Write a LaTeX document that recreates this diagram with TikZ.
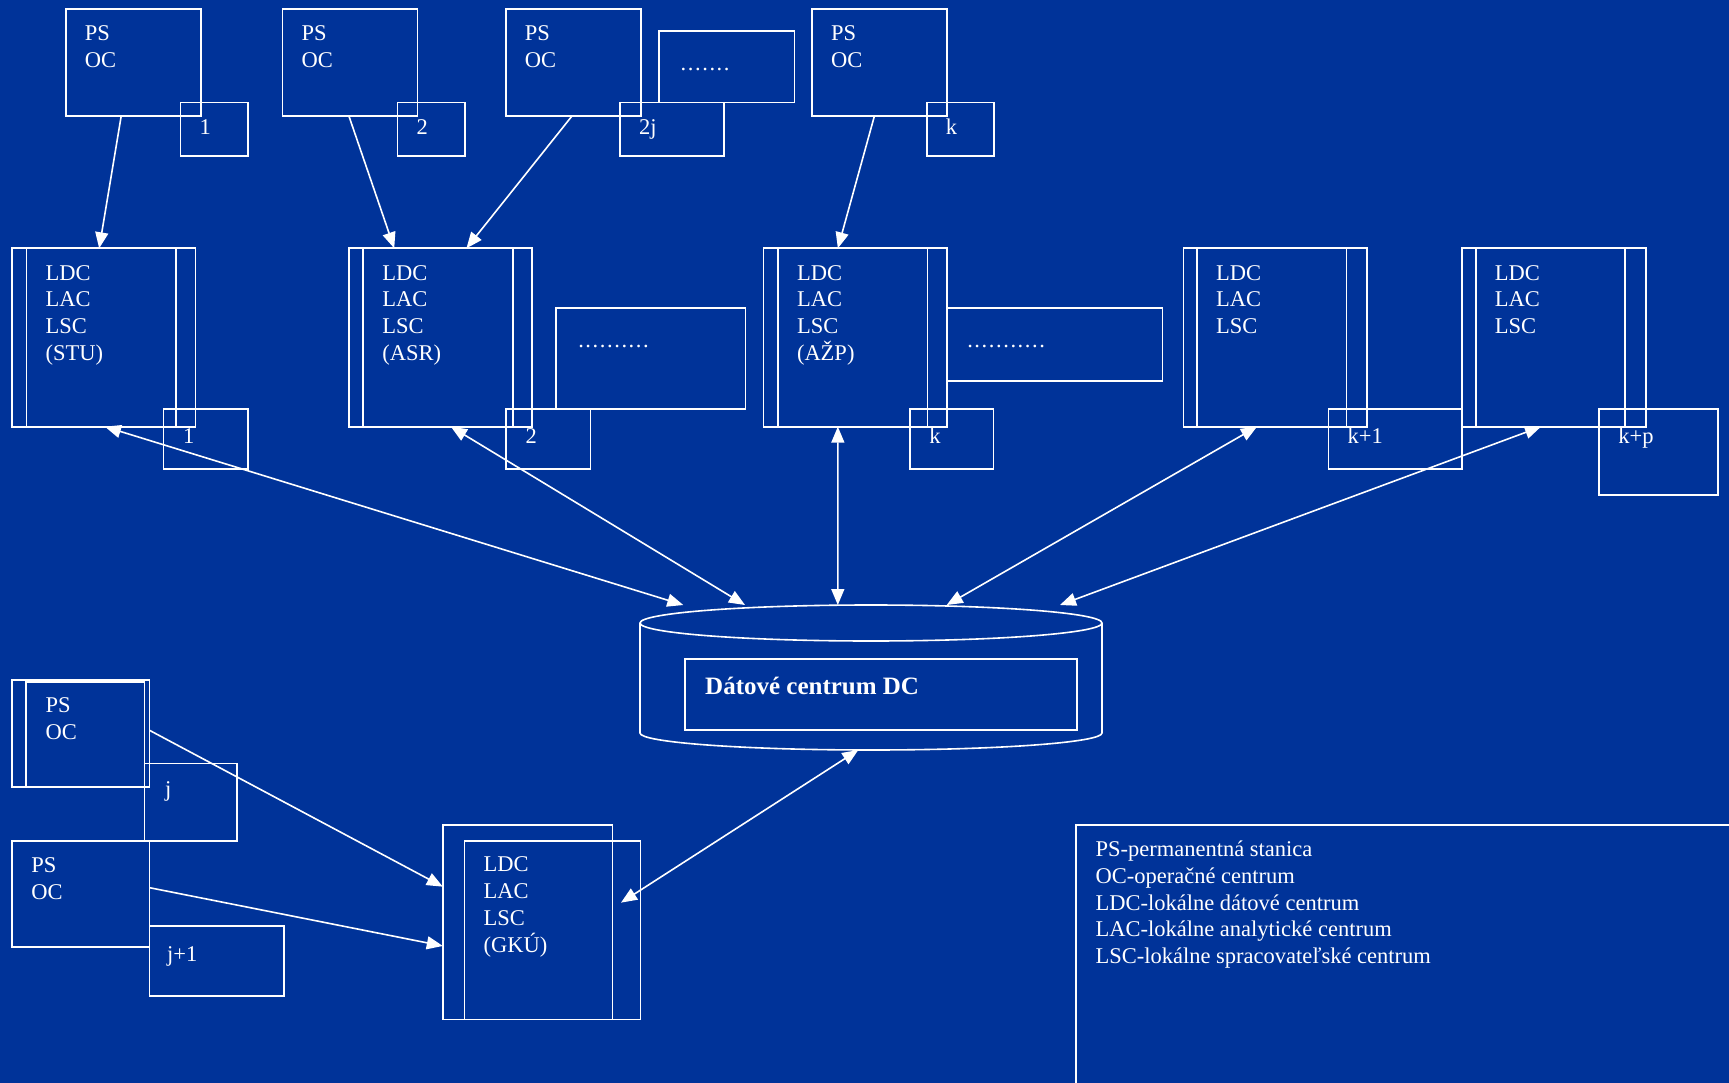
\documentclass[tikz,border=0pt]{standalone}
\usepackage{fontspec}
\setmainfont{Liberation Serif}
\usetikzlibrary{arrows.meta}
\definecolor{pozadie}{RGB}{0,51,153}
\newcommand{\riadky}[1]{\begin{tabular}[t]{@{}l@{}}#1\end{tabular}}

\begin{document}
\begin{tikzpicture}[x=1pt, y=-1pt,
    box/.style={draw=white, line width=1.6pt, inner sep=0pt, outer sep=0pt, anchor=north west},
    psbox/.style={box, minimum width=135pt, minimum height=107pt},
    cislo/.style={box, minimum width=67.5pt, minimum height=53.5pt},
    ldc/.style={box, minimum width=183.5pt, minimum height=178.4pt},
    ldcin/.style={box, minimum width=149.5pt, minimum height=178.4pt},
    txt/.style={text=white, inner sep=0pt, anchor=base west, font=\fontsize{22.5}{26.7}\selectfont},
    bodkytxt/.style={txt, font=\fontsize{22.5}{26.7}\selectfont\addfontfeature{LetterSpace=7}},
    sipka/.style={draw=white, line width=1.6pt, -{Triangle[length=16pt,width=13pt]}},
    obojsmerna/.style={sipka, {Triangle[length=16pt,width=13pt]}-{Triangle[length=16pt,width=13pt]}},
  ]
  \useasboundingbox (0,0) rectangle (1729,1083);
  \fill[pozadie] (0,0) rectangle (1729,1083);

  % === Horny rad: PS / OC ===
  \node[psbox] (ps1) at (65.7,9) {};
  \node[cislo] (c1) at (180.5,102.7) {};
  \node[txt] (ps1t) at ([shift={(19pt,-31.8pt)}]ps1.north west) {\riadky{PS\\OC}};
  \node[txt] (c1t) at ([shift={(19pt,-32.3pt)}]c1.north west) {1};

  \node[psbox] (ps2) at (282.5,9) {};
  \node[cislo] (c2) at (397.3,102.7) {};
  \node[txt] (ps2t) at ([shift={(19pt,-31.8pt)}]ps2.north west) {\riadky{PS\\OC}};
  \node[txt] (c2t) at ([shift={(19pt,-32.3pt)}]c2.north west) {2};

  \node[psbox] (ps3) at (505.7,9) {};
  \node[cislo, minimum width=104pt] (c3) at (619.9,102.7) {};
  \node[box, minimum width=135.8pt, minimum height=71.7pt] (bodky1) at (658.8,31) {};
  \node[txt] (ps3t) at ([shift={(19pt,-31.8pt)}]ps3.north west) {\riadky{PS\\OC}};
  \node[txt] (c3t) at ([shift={(19pt,-32.3pt)}]c3.north west) {2j};
  \node[bodkytxt] (bodky1t) at ([shift={(21.7pt,-39.7pt)}]bodky1.north west) {.......};

  \node[psbox] (ps4) at (811.9,9) {};
  \node[cislo] (c4) at (926.7,102.7) {};
  \node[txt] (ps4t) at ([shift={(19pt,-31.8pt)}]ps4.north west) {\riadky{PS\\OC}};
  \node[txt] (c4t) at ([shift={(19pt,-32.3pt)}]c4.north west) {k};

  % === Stredny rad: LDC / LAC / LSC ===
  \node[ldc] (stu) at (12,248.3) {};
  \node[ldcin] (stuin) at ([xshift=14.5pt]stu.north west) {};
  \node[txt] (stut) at ([shift={(19pt,-31.7pt)}]stuin.north west) {\riadky{LDC\\LAC\\LSC\\(STU)}};
  \node[box, minimum width=84.8pt, minimum height=60pt] (m1) at (163.4,408.7) {};
  \node[txt] (m1t) at ([shift={(19.5pt,-34.6pt)}]m1.north west) {1};

  \node[ldc] (asr) at (348.7,248.3) {};
  \node[ldcin] (asrin) at ([xshift=14.5pt]asr.north west) {};
  \node[txt] (asrt) at ([shift={(19pt,-31.7pt)}]asrin.north west) {\riadky{LDC\\LAC\\LSC\\(ASR)}};
  \node[box, minimum width=84.8pt, minimum height=60pt] (m2) at (505.8,408.7) {};
  \node[txt] (m2t) at ([shift={(19.5pt,-34.6pt)}]m2.north west) {2};
  \node[box, minimum width=189.6pt, minimum height=101.3pt] (bodky2) at (555.8,307.7) {};
  \node[bodkytxt] (bodky2t) at ([shift={(22.3pt,-39.6pt)}]bodky2.north west) {..........};

  \node[ldc] (azp) at (763.3,248.3) {};
  \node[ldcin] (azpin) at ([xshift=14.5pt]azp.north west) {};
  \node[txt] (azpt) at ([shift={(19pt,-31.7pt)}]azpin.north west) {\riadky{LDC\\LAC\\LSC\\(AŽP)}};
  \node[box, minimum width=83.9pt, minimum height=60pt] (mk) at (909.7,408.7) {};
  \node[txt] (mkt) at ([shift={(19.5pt,-34.6pt)}]mk.north west) {k};
  \node[box, minimum width=216.3pt, minimum height=73pt] (bodky3) at (946.3,307.7) {};
  \node[bodkytxt] (bodky3t) at ([shift={(20.8pt,-39.6pt)}]bodky3.north west) {...........};

  \node[ldc] (ldc4) at (1183.4,248.3) {};
  \node[ldcin] (ldc4in) at ([xshift=13.5pt]ldc4.north west) {};
  \node[txt] (ldc4t) at ([shift={(19pt,-31.7pt)}]ldc4in.north west) {\riadky{LDC\\LAC\\LSC}};
  \node[box, minimum width=133.7pt, minimum height=60pt] (mk1) at (1328.5,408.7) {};
  \node[txt] (mk1t) at ([shift={(19pt,-34.6pt)}]mk1.north west) {k+1};

  \node[ldc] (ldc5) at (1462.2,248.3) {};
  \node[ldcin] (ldc5in) at ([xshift=13.5pt]ldc5.north west) {};
  \node[txt] (ldc5t) at ([shift={(19pt,-31.7pt)}]ldc5in.north west) {\riadky{LDC\\LAC\\LSC}};
  \node[box, minimum width=118.7pt, minimum height=86.3pt] (mkp) at (1599,408.7) {};
  \node[txt] (mkpt) at ([shift={(19.2pt,-34.6pt)}]mkp.north west) {k+p};

  % === Datove centrum (valec) ===
  \draw[white, line width=1.6pt] (871,623) ellipse [x radius=231pt, y radius=18pt];
  \draw[white, line width=1.6pt] (640,623) -- (640,733)
    arc[start angle=180, end angle=360, x radius=231pt, y radius=17pt] -- (1102,623);
  \node[minimum width=462pt, minimum height=145pt, inner sep=0pt, outer sep=0pt, anchor=north] (dc) at (871,605) {};
  \node[box, minimum width=392pt, minimum height=71pt] (dcbox) at (685,659) {};
  \node[txt, font=\fontsize{25}{30}\selectfont\bfseries] (dct) at ([shift={(20pt,-35.3pt)}]dcbox.north west) {Dátové centrum DC};

  % === Dolny lavy roh: PS / OC a GKU ===
  \node[box, minimum width=137.9pt, minimum height=106.7pt] (psj) at (11.7,680) {};
  \node[box, minimum width=118.4pt, minimum height=105pt] (psjin) at (26,681.7) {};
  \node[txt] (psjt) at ([shift={(19.5pt,-31pt)}]psjin.north west) {\riadky{PS\\OC}};
  \node[box, minimum width=92.4pt, minimum height=77.4pt] (cj) at (144.4,763.3) {};
  \node[txt] (cjt) at ([shift={(20.4pt,-33.4pt)}]cj.north west) {j};

  \node[box, minimum width=137.9pt, minimum height=106pt] (psj1) at (11.7,840.7) {};
  \node[txt] (psj1t) at ([shift={(19.5pt,-32pt)}]psj1.north west) {\riadky{PS\\OC}};
  \node[box, minimum width=134.4pt, minimum height=70pt] (cj1) at (149.6,926) {};
  \node[txt] (cj1t) at ([shift={(17.4pt,-35.7pt)}]cj1.north west) {j+1};

  \node[box, minimum width=169.5pt, minimum height=194.3pt] (gku) at (442.8,825) {};
  \node[box, minimum width=176.1pt, minimum height=178.6pt] (gkuin) at (464.4,840.7) {};
  \node[txt] (gkut) at ([shift={(19.1pt,-31pt)}]gkuin.north west) {\riadky{LDC\\LAC\\LSC\\(GKÚ)}};

  % === Legenda ===
  \node[box, minimum width=700pt, minimum height=300pt] (legenda) at (1076.2,825) {};
  \node[txt] (legendat) at ([shift={(19.2pt,-31.7pt)}]legenda.north west) {\riadky{PS-permanentná stanica\\OC-operačné centrum\\LDC-lokálne dátové centrum\\LAC-lokálne analytické centrum\\LSC-lokálne spracovateľské centrum}};

  % === Sipky ===
  \draw[sipka] ([xshift=-12pt]ps1.south) -- ([xshift=-4.6pt]stu.north);
  \draw[sipka] ([xshift=-1.1pt]ps2.south) -- ([xshift=-46.2pt]asr.north);
  \draw[sipka] ([xshift=-1.2pt]ps3.south) -- ([xshift=26pt]asr.north);
  \draw[sipka] ([xshift=-5pt]ps4.south) -- ([xshift=-17.2pt]azp.north);

  \draw[obojsmerna] ([xshift=1.2pt]stu.south) -- ([xshift=-187.7pt]dc.north);
  \draw[obojsmerna] ([xshift=10.5pt]asr.south) -- ([xshift=-126pt]dc.north);
  \draw[obojsmerna] ([xshift=-17.2pt]azp.south) -- ([xshift=-33.2pt]dc.north);
  \draw[obojsmerna] ([xshift=-18.2pt]ldc4.south) -- ([xshift=75.7pt]dc.north);
  \draw[obojsmerna] ([xshift=-13pt]ldc5.south) -- ([xshift=189pt]dc.north);

  \draw[sipka] ([yshift=3pt]psj.east) -- ([yshift=35.5pt]gku.west);
  \draw[sipka] ([yshift=6pt]psj1.east) -- ([yshift=-23.8pt]gku.west);
  \draw[obojsmerna] ([xshift=-12.7pt]dc.south) -- ([shift={(8.7pt,19.5pt)}]gku.east);
\end{tikzpicture}
\end{document}
